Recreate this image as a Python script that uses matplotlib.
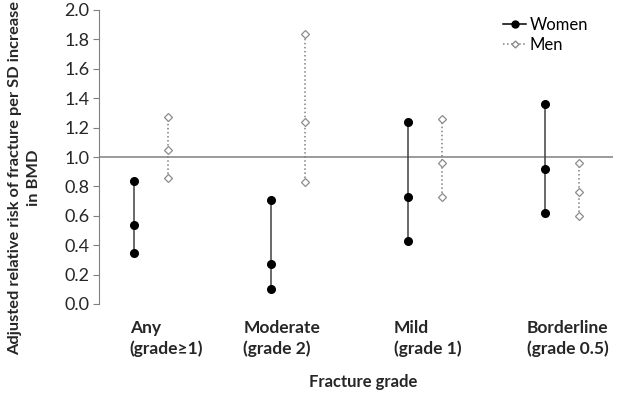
import matplotlib
matplotlib.use("Agg")
import matplotlib.pyplot as plt
from matplotlib.lines import Line2D

plt.rcParams['font.family'] = ['Lato', 'DejaVu Sans']

# categories and values (lower CI, estimate, upper CI)
categories = ["Any\n(grade\u22651)", "Moderate\n(grade 2)", "Mild\n(grade 1)", "Borderline\n(grade 0.5)"]
women_low = [0.35, 0.10, 0.43, 0.62]
women_mid = [0.54, 0.27, 0.73, 0.92]
women_high = [0.84, 0.71, 1.24, 1.36]
men_low = [0.86, 0.83, 0.73, 0.60]
men_mid = [1.05, 1.24, 0.96, 0.76]
men_high = [1.27, 1.84, 1.26, 0.96]
yticks = [0.0, 0.2, 0.4, 0.6, 0.8, 1.0, 1.2, 1.4, 1.6, 1.8, 2.0]

fig = plt.figure(figsize=(6.17, 3.98), dpi=100)
ax = fig.add_axes([99/617, 1-304/398, (613-99)/617, 294/398])

xw = list(range(len(categories)))
xm = [x + 0.25 for x in xw]

for i in range(len(categories)):
    ax.plot([xw[i]]*3, [women_low[i], women_mid[i], women_high[i]], '-', color='#404040', lw=1.1,
            marker='o', ms=5.5, mfc='black', mec='black', zorder=3)
    ax.plot([xm[i]]*3, [men_low[i], men_mid[i], men_high[i]], ':', color='#808080', lw=1.1,
            marker='D', ms=3.8, mfc='white', mec='#8c8c8c', mew=0.9, zorder=3)

ax.axhline(1.0, color='#808080', lw=1.1, zorder=1)

ax.set_xlim(-0.255, 3.5)
ax.set_ylim(0, 2.0)
ax.set_yticks(yticks)
ax.set_yticklabels(["%.1f" % v for v in yticks], fontsize=13, color='#262626')
ax.tick_params(axis='y', direction='out', length=4, color='#808080', pad=3)
ax.set_xticks([])
for s in ['top', 'right', 'bottom']:
    ax.spines[s].set_visible(False)
ax.spines['left'].set_color('#808080')

label_x = [-0.03, 0.80, 1.90, 2.87]
for lx, lab in zip(label_x, categories):
    ax.text(lx, -0.11, lab, ha='left', va='top', fontsize=12.5, fontweight='bold',
            color='#262626', linespacing=1.3)

fig.text(363/617, 1-382/398, "Fracture grade", ha='center', va='center',
         fontsize=12, fontweight='bold', color='#262626')
fig.text(25/617, 1-178/398, "Adjusted relative risk of fracture per SD increase\nin BMD",
         ha='center', va='center', rotation=90, fontsize=11.8, fontweight='bold',
         color='#262626', linespacing=1.45)

handles = [Line2D([], [], color='black', lw=1.1, marker='o', ms=5, mfc='black'),
           Line2D([], [], color='#808080', ls=':', lw=1.1, marker='D', ms=3.5, mfc='white', mec='#8c8c8c')]
fig.legend(handles, ["Women", "Men"], loc='upper left', bbox_to_anchor=(488/617, 1-2/398),
           frameon=False, fontsize=12, handlelength=1.4, handletextpad=0.2, labelspacing=0.25)

fig.savefig("out.png", dpi=100)
